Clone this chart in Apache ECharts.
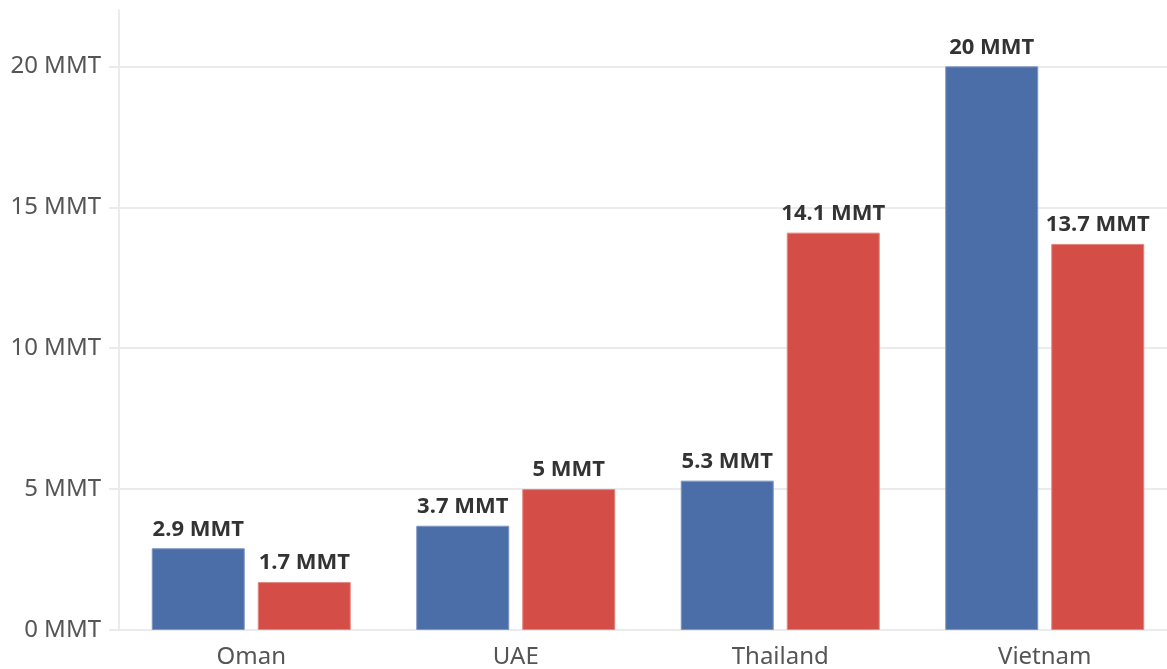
<html lang="en">
<head>
    <meta charset="UTF-8">
    <title>MMT by country</title>
    <script src="https://cdn.jsdelivr.net/npm/echarts@6/dist/echarts.min.js"></script>
</head>
<body style="margin:0;overflow:hidden">
    <div id="main" style="width:1180px;height:669px;"></div>
    <script type="text/javascript">
        var countries = ['Oman', 'UAE', 'Thailand', 'Vietnam'];
        var blueValues = [2.9, 3.7, 5.3, 20];
        var redValues = [1.7, 5, 14.1, 13.7];
        var yTicks = [0, 5, 10, 15, 20];

        var fontName = 'Noto Sans';
        var gridColor = '#ebebeb';

        function mmt(v) {
            return v + ' MMT';
        }

        var labelStyle = {
            show: true,
            position: 'top',
            distance: 8,
            fontFamily: fontName,
            fontWeight: 'bold',
            fontSize: 22,
            color: '#333333',
            formatter: function (p) { return mmt(p.value); }
        };

        // chart div is a bit wider than the window so the last category runs off the edge like the original
        var chart = echarts.init(document.getElementById('main'));
        var option = {
            animation: false,
            grid: {
                left: 119,
                right: 3,
                top: 10,
                bottom: 39,
                containLabel: false
            },
            xAxis: {
                type: 'category',
                data: countries,
                axisLine: { lineStyle: { color: gridColor, width: 2 } },
                axisTick: { alignWithLabel: true, length: 8, lineStyle: { color: gridColor, width: 2 } },
                axisLabel: { fontFamily: fontName, fontSize: 24, color: '#555555', margin: 15 }
            },
            yAxis: {
                type: 'value',
                min: yTicks[0],
                max: 22,
                interval: 5,
                axisLine: { show: true, lineStyle: { color: gridColor, width: 2 } },
                axisTick: { show: true, length: 10, lineStyle: { color: gridColor, width: 2 } },
                axisLabel: {
                    fontFamily: fontName, fontSize: 24, color: '#555555', margin: 18,
                    showMaxLabel: false,
                    formatter: function (v) { return yTicks.indexOf(v) >= 0 ? mmt(v) : ''; }
                },
                splitLine: { show: true, showMaxLine: false, lineStyle: { color: gridColor, width: 2 } }
            },
            series: [
                {
                    name: 'blue',
                    type: 'bar',
                    data: blueValues,
                    barWidth: 93,
                    barGap: '14%',
                    itemStyle: { color: '#4b6ea8', borderColor: '#7d97c2', borderWidth: 1 },
                    label: labelStyle
                },
                {
                    name: 'red',
                    type: 'bar',
                    data: redValues,
                    barWidth: 93,
                    itemStyle: { color: '#d44e47', borderColor: '#e38680', borderWidth: 1 },
                    label: labelStyle
                }
            ]
        };
        chart.setOption(option);
    </script>
</body>
</html>
